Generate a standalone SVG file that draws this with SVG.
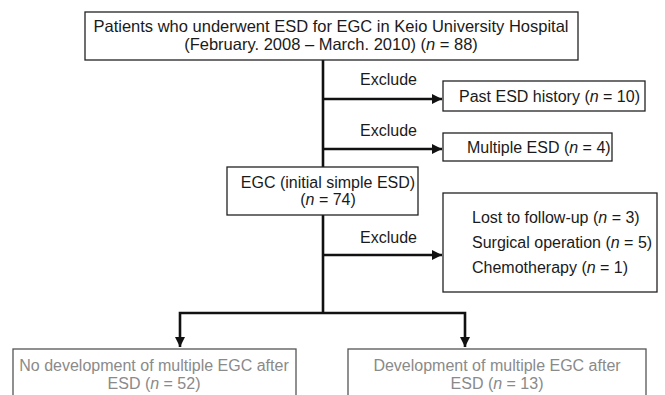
<svg xmlns="http://www.w3.org/2000/svg" width="665" height="395" viewBox="0 0 665 395">
<defs>
<style>
text{font-family:"Liberation Sans",Arial,sans-serif;font-size:16px;fill:#1a1a1a}
.c{text-anchor:middle}
.t{font-size:16.5px}
.g{fill:#8a8a8a}
.box{fill:#fff;stroke:#222;stroke-width:1.3}
.gbox{fill:#fff;stroke:#555;stroke-width:1.3}
.ln{fill:none;stroke:#111;stroke-width:2.6}
</style>
<marker id="ah" viewBox="0 0 10 10" refX="10" refY="5" markerWidth="4" markerHeight="4" orient="auto" markerUnits="strokeWidth">
<path d="M0,0 L10,5 L0,10 z" fill="#111"/>
</marker>
</defs>
<rect width="665" height="395" fill="#fff"/>
<g id="connectors">
<line class="ln" x1="323" y1="60" x2="323" y2="314"/>
<line class="ln" x1="323" y1="99" x2="442" y2="99" marker-end="url(#ah)"/>
<line class="ln" x1="323" y1="149" x2="442" y2="149" marker-end="url(#ah)"/>
<line class="ln" x1="323" y1="255" x2="442" y2="255" marker-end="url(#ah)"/>
<polyline class="ln" points="323,313 180,313 180,347" marker-end="url(#ah)"/>
<polyline class="ln" points="323,313 465,313 465,347" marker-end="url(#ah)"/>
<text x="360" y="85">Exclude</text>
<text x="360" y="136">Exclude</text>
<text x="360" y="243">Exclude</text>
</g>
<g id="n1">
<rect class="box" x="85" y="12" width="493" height="48"/>
<text class="c t" x="331" y="32">Patients who underwent ESD for EGC in Keio University Hospital</text>
<text class="c t" x="331" y="50">(February. 2008 – March. 2010) (<tspan font-style="italic">n</tspan> = 88)</text>
</g>
<g id="n2">
<rect class="box" x="443" y="81" width="202" height="30"/>
<text x="459" y="102">Past ESD history (<tspan font-style="italic">n</tspan> = 10)</text>
</g>
<g id="n3">
<rect class="box" x="443" y="133" width="169" height="28"/>
<text x="467" y="153">Multiple ESD (<tspan font-style="italic">n</tspan> = 4)</text>
</g>
<g id="n4">
<rect class="box" x="227" y="167" width="191" height="48"/>
<text class="c" x="328" y="188">EGC (initial simple ESD)</text>
<text class="c" x="328" y="205">(<tspan font-style="italic">n</tspan> = 74)</text>
</g>
<g id="n5">
<rect class="box" x="443" y="193" width="214" height="99"/>
<text x="472" y="223">Lost to follow-up (<tspan font-style="italic">n</tspan> = 3)</text>
<text x="472" y="248">Surgical operation (<tspan font-style="italic">n</tspan> = 5)</text>
<text x="472" y="273">Chemotherapy (<tspan font-style="italic">n</tspan> = 1)</text>
</g>
<g id="n6">
<rect class="gbox" x="13" y="349" width="283" height="60"/>
<text class="c g" x="154" y="371">No development of multiple EGC after</text>
<text class="c g" x="154" y="389">ESD (<tspan font-style="italic">n</tspan> = 52)</text>
</g>
<g id="n7">
<rect class="gbox" x="348" y="349" width="298" height="60"/>
<text class="c g" x="497" y="371">Development of multiple EGC after</text>
<text class="c g" x="497" y="389">ESD (<tspan font-style="italic">n</tspan> = 13)</text>
</g>
</svg>
